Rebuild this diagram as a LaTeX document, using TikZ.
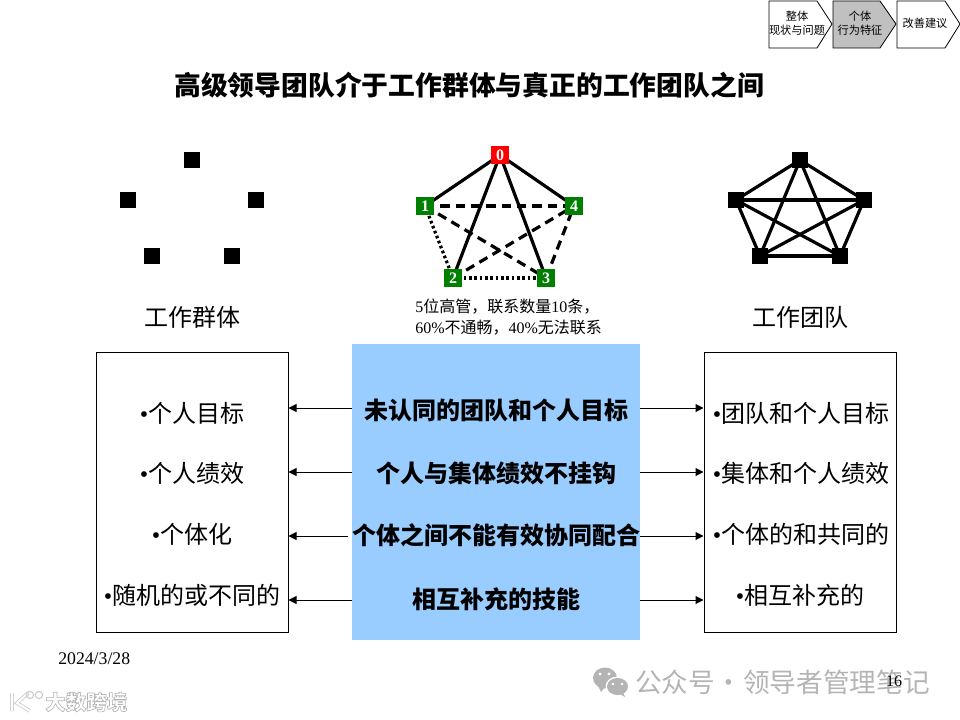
\documentclass[tikz,border=0pt]{standalone}
\usepackage{fontspec}
\setmainfont{Liberation Serif}
\newfontfamily\cjk{Noto Sans CJK SC}
\usetikzlibrary{arrows.meta}
\definecolor{paleblue}{HTML}{99CCFF}
\definecolor{navgray}{HTML}{C0C0C0}
\definecolor{nodegreen}{HTML}{008000}
\definecolor{markgray}{HTML}{B4B4B4}
\tikzset{
  x=0.75pt,y=-0.75pt,
  chev/.style={draw=black,line width=0.6pt,line join=miter},
  navlabel/.style={font=\cjk\fontsize{8.4}{10.5}\selectfont,align=center,inner sep=0pt},
  blacksq/.style={fill=black,draw=none,minimum size=12pt,inner sep=0pt},
  numsq/.style={fill=#1,draw=none,minimum size=14pt,inner sep=0pt,text=white,font=\bfseries\fontsize{12}{12}\selectfont},
  solidlink/.style={line width=2.4pt},
  dashlink/.style={line width=2.4pt,dash pattern=on 7pt off 4.5pt},
  dotlink/.style={line width=2.4pt,dash pattern=on 2pt off 2pt},
  teamlink/.style={line width=2.4pt},
  biglabel/.style={font=\cjk\fontsize{18}{22}\selectfont,inner sep=0pt},
  listitem/.style={font=\fontsize{18}{22}\selectfont,inner sep=0pt},
  midlabel/.style={font=\cjk\bfseries\fontsize{18}{22}\selectfont,inner sep=0pt},
  sidebox/.style={draw=black,line width=0.75pt,fill=white,inner sep=0pt},
  linkarrow/.style={draw=black,line width=0.75pt,-{Triangle[length=6pt,width=6pt]}},
  wmtext/.style={font=\cjk\fontsize{20}{24}\selectfont,text=markgray,inner sep=0pt}
}
\begin{document}
\begin{tikzpicture}
\useasboundingbox (0,0) rectangle (960,720);
% navigation chevrons
\draw[chev,fill=white] (769,1) -- (817,1) -- (832,24) -- (817,48) -- (769,48) -- cycle;
\draw[chev,fill=navgray] (833,1) -- (880,1) -- (896,24) -- (880,48) -- (833,48) -- cycle;
\draw[chev,fill=white] (897,1) -- (945,1) -- (960,24) -- (945,48) -- (897,48) -- cycle;
\node[navlabel] (nava) at (797,23) {整体\\现状与问题};
\node[navlabel] (navb) at (860,23) {个体\\行为特征};
\node[navlabel] (navc) at (925,23) {改善建议};
% title
\node[inner sep=0pt,font=\cjk\bfseries\fontsize{20.1}{24}\selectfont] (title) at (469,85) {高级领导团队介于工作群体与真正的工作团队之间};
% left group
\node[blacksq] (la) at (192,160) {};
\node[blacksq] (lb) at (128,200) {};
\node[blacksq] (lc) at (256,200) {};
\node[blacksq] (ld) at (152,256) {};
\node[blacksq] (le) at (232,256) {};
\node[biglabel] (groupname) at (192,317) {工作群体};
% middle graph
\draw[solidlink] (500,155) coordinate (c0) -- (425,206) coordinate (c1);
\draw[solidlink] (c0) -- (453,278) coordinate (c2);
\draw[solidlink] (c0) -- (546,278) coordinate (c3);
\draw[solidlink] (c0) -- (574,206) coordinate (c4);
\draw[dashlink] (c1) -- (c4);
\draw[dashlink] (c1) -- (c3);
\draw[dashlink] (c2) -- (c4);
\draw[dashlink] (c3) -- (c4);
\draw[dotlink] (c1) -- (c2);
\draw[dotlink] (c2) -- (c3);
\node[numsq=red] (n0) at (c0) {0};
\node[numsq=nodegreen] (n1) at (c1) {1};
\node[numsq=nodegreen] (n4) at (c4) {4};
\node[numsq=nodegreen] (n2) at (c2) {2};
\node[numsq=nodegreen] (n3) at (c3) {3};
\node[inner sep=0pt,align=left,anchor=west,font=\fontsize{12}{16}\selectfont] (note) at (415,317) {5{\cjk 位高管，联系数量}10{\cjk 条，}\\60\%{\cjk 不通畅，}40\%{\cjk 无法联系}};
% right team
\foreach \p/\q in {800/160,736/200,864/200,760/256,840/256}
  \coordinate (t\p) at (\p,\q);
\foreach \p/\q in {800/736,800/864,800/760,800/840,736/864,736/760,736/840,864/760,864/840,760/840}
  \draw[teamlink] (t\p) -- (t\q);
\node[blacksq] (ra) at (t800) {};
\node[blacksq] (rb) at (t736) {};
\node[blacksq] (rc) at (t864) {};
\node[blacksq] (rd) at (t760) {};
\node[blacksq] (re) at (t840) {};
\node[biglabel] (teamname) at (800,317) {工作团队};
% boxes
\node[sidebox,minimum width=144pt,minimum height=210pt] (lbox) at (192,492) {};
\node[sidebox,minimum width=144pt,minimum height=210pt] (rbox) at (800,492) {};
\node[fill=paleblue,draw=none,inner sep=0pt,minimum width=216pt,minimum height=222pt] (cbox) at (496,492) {};
% row anchors
\coordinate (r1) at (496,408);
\coordinate (r2) at (496,472);
\coordinate (r3) at (496,536);
\coordinate (r4) at (496,600);
\draw[linkarrow] (cbox.west |- r1) -- (lbox.east |- r1);
\draw[linkarrow] (cbox.west |- r2) -- (lbox.east |- r2);
\draw[linkarrow] ([xshift=-3pt]cbox.west |- r3) -- (lbox.east |- r3);
\draw[linkarrow] (cbox.west |- r4) -- (lbox.east |- r4);
\draw[linkarrow] (cbox.east |- r1) -- (rbox.west |- r1);
\draw[linkarrow] (cbox.east |- r2) -- (rbox.west |- r2);
\draw[linkarrow] (cbox.east |- r3) -- (rbox.west |- r3);
\draw[linkarrow] (cbox.east |- r4) -- (rbox.west |- r4);
% left list
\node[listitem] (l1) at (192,413) {•{\cjk 个人目标}};
\node[listitem] (l2) at (192,473) {•{\cjk 个人绩效}};
\node[listitem] (l3) at (192,534) {•{\cjk 个体化}};
\node[listitem] (l4) at (192,595) {•{\cjk 随机的或不同的}};
% middle list
\node[midlabel] (m1) at (496,410) {未认同的团队和个人目标};
\node[midlabel] (m2) at (496,473) {个人与集体绩效不挂钩};
\node[midlabel] (m3) at (496,535) {个体之间不能有效协同配合};
\node[midlabel] (m4) at (496,599) {相互补充的技能};
% right list
\node[listitem] (r1t) at (801,413) {•{\cjk 团队和个人目标}};
\node[listitem] (r2t) at (801,473) {•{\cjk 集体和个人绩效}};
\node[listitem] (r3t) at (801,534) {•{\cjk 个体的和共同的}};
\node[listitem] (r4t) at (800,595) {•{\cjk 相互补充的}};
% footer
\node[inner sep=0pt,anchor=west,font=\fontsize{13.3}{15}\selectfont] (date) at (58,659) {2024/3/28};
% watermark, right
\fill[markgray] (605,678) ellipse (12 and 10.5);
\fill[markgray] (598,686) -- (601,692) -- (605,687) -- cycle;
\fill[white] (617.5,686.5) ellipse (12 and 10);
\fill[markgray] (617.5,686.5) ellipse (10.5 and 8.5);
\fill[markgray] (623,692) -- (625,697) -- (618,693) -- cycle;
\fill[white] (600,674) circle (1.6) (609,674) circle (1.6) (613,684) circle (1.4) (622,684) circle (1.4);
\node[wmtext,anchor=west] (wm) at (635,682) {公众号\hspace{-4pt} · \hspace{-4pt}领导者管理笔记};
\node[inner sep=0pt,font=\fontsize{12}{14}\selectfont] (page) at (894,681) {16};
% watermark, left
\draw[markgray!70,line width=0.6pt,double=white,double distance=1.6pt] (12,693) -- (12,711) (28,693) -- (17,703) -- (30,711);
\draw[markgray!70,line width=0.8pt] (30,695) circle (3.6) (39,695) circle (3.6);
\node[inner sep=0pt,anchor=west,text=markgray,font=\cjk\bfseries\fontsize{15.4}{18}\selectfont] (wl) at (45,702) {\special{pdf:code q 1 Tr 0.5 w}大数跨境\special{pdf:code Q}};
\end{tikzpicture}
\end{document}
